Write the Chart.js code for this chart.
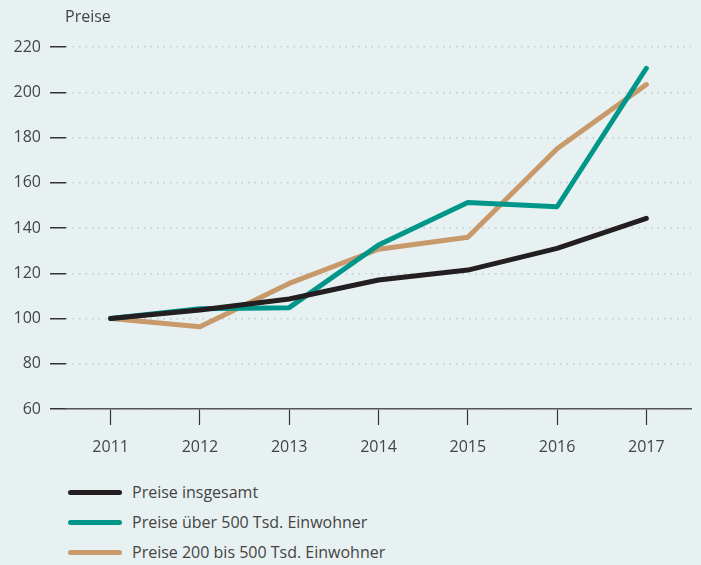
<!DOCTYPE html>
<html lang="de">
<head>
<meta charset="utf-8">
<script src="https://cdn.jsdelivr.net/npm/chart.js@4"></script>
<style>
    html, body { margin: 0; padding: 0; background: #e8f1f2; }
    body { width: 701px; height: 565px; position: relative; overflow: hidden;
           font-family: "Open Sans", sans-serif; color: #444; }
    #wrap { position: absolute; left: 0; top: 0; width: 701px; height: 470px; }
    #unit { position: absolute; left: 65px; top: 5px; font-size: 16px; }
    #legend { position: absolute; left: 68px; top: 477px; }
    .item { display: flex; align-items: center; height: 30px; font-size: 16px; }
    .swatch { width: 54px; height: 5px; border-radius: 3px; margin-right: 10px; }
</style>
</head>
<body>
<div id="wrap"><canvas id="chart"></canvas></div>
<div id="unit">Preise</div>
<div id="legend"></div>

<script>
const years    = ['2011', '2012', '2013', '2014', '2015', '2016', '2017'];
const gesamt   = [100, 103.8, 108.6, 117.0, 121.4, 131.0, 144.3];
const ueber500 = [100, 104.3, 104.8, 132.5, 151.3, 149.4, 210.6];
const bis500   = [100, 96.4, 115.5, 130.6, 135.9, 175.0, 203.4];
const yTicks   = [60, 80, 100, 120, 140, 160, 180, 200, 220];

const seriesNames  = ['Preise insgesamt', 'Preise über 500 Tsd. Einwohner', 'Preise 200 bis 500 Tsd. Einwohner'];
const seriesColors = ['#231f20', '#00968a', '#c8996a'];
const seriesData   = [gesamt, ueber500, bis500];

const font = { family: '"Open Sans", sans-serif', size: 16 };

const chart = new Chart(document.getElementById('chart'), {
    type: 'line',
    data: {
        labels: years,
        datasets: seriesData.map((data, i) => ({
            label: seriesNames[i],
            data,
            borderColor: seriesColors[i],
            backgroundColor: seriesColors[i],
            borderWidth: 5,
            borderCapStyle: 'round',
            borderJoinStyle: 'round',
            pointRadius: 0,
            tension: 0,
        })),
    },
    options: {
        responsive: true,
        maintainAspectRatio: false,
        animation: false,
        layout: { padding: { top: 47, right: 10, bottom: 0, left: 0 } },
        plugins: { legend: { display: false }, tooltip: { enabled: false } },
        scales: {
            x: {
                type: 'category',
                offset: true,
                grid: { offset: false, drawOnChartArea: false, tickLength: 16, tickColor: '#333', tickWidth: 1.2 },
                border: { display: true, color: '#555', width: 1.5 },
                ticks: { color: '#444', font, padding: 13, maxRotation: 0 },
                afterFit: (s) => { s.height = 61; },
            },
            y: {
                min: 60,
                max: 220,
                afterBuildTicks: (s) => { s.ticks = yTicks.map((v) => ({ value: v })); },
                grid: { color: '#c0cacd', lineWidth: 1.5, tickLength: 16, tickColor: '#333', tickWidth: 1.5 },
                border: { display: false, dash: [1.5, 5] },
                ticks: { color: '#444', font, padding: 9 },
                afterFit: (s) => { s.width = 66; },
            },
        },
    },
});

// legend below the chart, built from the datasets
document.getElementById('legend').innerHTML = chart.data.datasets.map((ds) => `
    <div class="item"><div class="swatch" style="background:${ds.borderColor}"></div>${ds.label}</div>
`).join('');
</script>
</body>
</html>
